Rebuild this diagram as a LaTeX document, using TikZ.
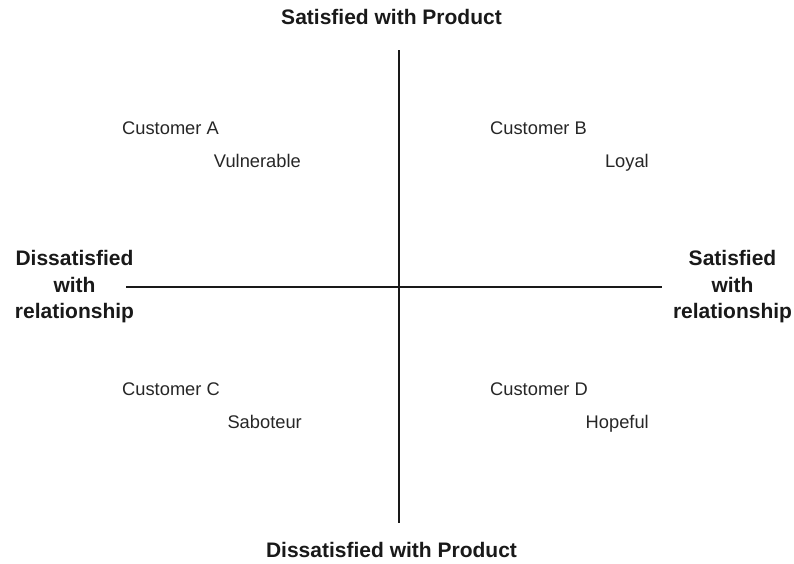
\documentclass[tikz,border=0pt]{standalone}
\usepackage{fontspec}
\setmainfont{Liberation Sans}
\begin{document}
\begin{tikzpicture}[x=1pt,y=-1pt,
  axislabel/.style={font=\fontsize{21}{26.5}\selectfont\bfseries, text=black!90, align=center, inner sep=0pt},
  custlabel/.style={font=\fontsize{18.3}{22}\selectfont, text=black!85, inner sep=0pt},
  axis/.style={line width=1.4pt, black!90}]
\useasboundingbox (0,0) rectangle (794,563);
% axes
\coordinate (vtop) at (399,50);
\coordinate (vbot) at (399,523);
\coordinate (hleft) at (126,287);
\coordinate (hright) at (662,287);
\draw[axis] (vtop) -- (vbot);
\draw[axis] (hleft) -- (hright);
% axis labels
\node[axislabel] (top) at (391.5,17) {Satisfied with Product};
\node[axislabel] (bot) at (391.5,550) {Dissatisfied with Product};
\node[axislabel] (left) at (74.5,287) {Dissatisfied\\with\\relationship};
\node[axislabel] (right) at (732.5,287) {Satisfied\\with\\relationship};
% quadrants
\node[custlabel, anchor=base west] (ca) at (122,134.5) {Customer A};
\node[custlabel, anchor=base east] (va) at (301,167.5) {Vulnerable};
\node[custlabel, anchor=base west] (cb) at (490,134.5) {Customer B};
\node[custlabel, anchor=base east] (lb) at (649,167.5) {Loyal};
\node[custlabel, anchor=base west] (cc) at (122,395.5) {Customer C};
\node[custlabel, anchor=base east] (sc) at (302,428.5) {Saboteur};
\node[custlabel, anchor=base west] (cd) at (490,395.5) {Customer D};
\node[custlabel, anchor=base east] (hd) at (649,428.5) {Hopeful};
\end{tikzpicture}
\end{document}
